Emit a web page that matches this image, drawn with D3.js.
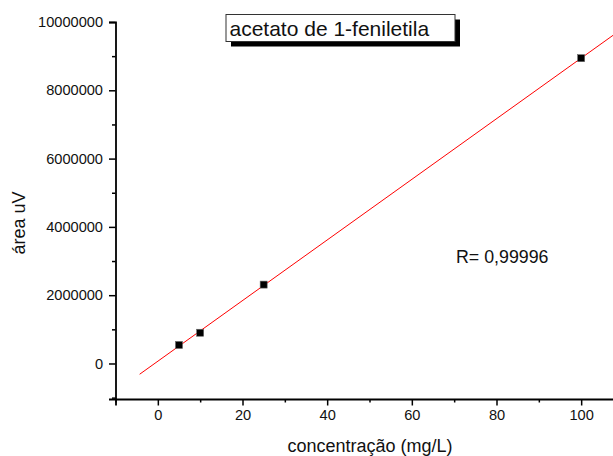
<!DOCTYPE html>
<html>
<head>
<meta charset="utf-8">
<script src="https://cdn.jsdelivr.net/npm/d3@7"></script>
<style>
  html, body { margin: 0; padding: 0; background: #fff; }
  svg { display: block; font-family: "Liberation Sans", Arial, sans-serif; }
</style>
</head>
<body>
<svg id="chart" width="613" height="456"></svg>
<script>
// Calibration standards: concentration (mg/L) vs peak area (uV)
const concentration = [5, 10, 25, 100];
const area = [542000, 900000, 2310000, 8940000];

const xMajorTicks = [0, 20, 40, 60, 80, 100];
const xMinorTicks = [-10, 10, 30, 50, 70, 90];
const yMajorTicks = [0, 2000000, 4000000, 6000000, 8000000, 10000000];
const yMinorTicks = [-1000000, 1000000, 3000000, 5000000, 7000000, 9000000];

const fitRange = [-4.3, 110];
const title = "acetato de 1-feniletila";
const rLabel = "R= 0,99996";
const xTitle = "concentração (mg/L)";
const yTitle = "área uV";

const svg = d3.select("#chart");

const x = d3.scaleLinear().domain([-10, 110]).range([115.5, 623.5]);
const y = d3.scaleLinear().domain([-1040000, 10000000]).range([399, 22]);

// least-squares fit of the standards
const n = concentration.length;
const mx = d3.mean(concentration), my = d3.mean(area);
let sxy = 0, sxx = 0;
for (let i = 0; i < n; i++) {
  sxy += (concentration[i] - mx) * (area[i] - my);
  sxx += (concentration[i] - mx) ** 2;
}
const slope = sxy / sxx;
const intercept = my - slope * mx;

// x axis
const xAxisG = svg.append("g").attr("transform", `translate(0,${y.range()[0]})`);
xAxisG.call(d3.axisBottom(x).tickValues(xMajorTicks).tickSize(6.5).tickPadding(4).tickFormat(d3.format("d")));
xAxisG.append("g").call(d3.axisBottom(x).tickValues(xMinorTicks).tickSize(3.5).tickFormat(""))
  .select(".domain").remove();

// y axis
const yAxisG = svg.append("g").attr("transform", `translate(${x.range()[0]},0)`);
yAxisG.call(d3.axisLeft(y).tickValues(yMajorTicks).tickSize(6.5).tickPadding(6).tickFormat(d3.format("d")));
yAxisG.append("g").call(d3.axisLeft(y).tickValues(yMinorTicks).tickSize(3.5).tickFormat(""))
  .select(".domain").remove();

svg.selectAll(".domain").attr("stroke", "#000").attr("stroke-width", 1.8);
svg.selectAll(".tick line").attr("stroke", "#000").attr("stroke-width", 1.5);
svg.selectAll(".tick text")
  .attr("fill", "#111")
  .style("font-size", "14.6px")
  .style("font-family", "'Liberation Sans', Arial, sans-serif");

// regression line
svg.append("line")
  .attr("x1", x(fitRange[0])).attr("y1", y(intercept + slope * fitRange[0]))
  .attr("x2", x(fitRange[1])).attr("y2", y(intercept + slope * fitRange[1]))
  .attr("stroke", "#ff0000").attr("stroke-width", 1);

// data markers
const ms = 7;
svg.append("g").selectAll("rect")
  .data(concentration.map((c, i) => ({ c, a: area[i] })))
  .join("rect")
  .attr("x", d => x(d.c) - ms / 2)
  .attr("y", d => y(d.a) - ms / 2)
  .attr("width", ms).attr("height", ms)
  .attr("fill", "#000")
  .attr("stroke", "#666").attr("stroke-width", 0.6);

// title box with drop shadow
const tb = { x: 226, y: 14.5, w: 229, h: 27, off: 5 };
svg.append("rect")
  .attr("x", tb.x + tb.off).attr("y", tb.y + tb.off)
  .attr("width", tb.w).attr("height", tb.h)
  .attr("fill", "#000");
svg.append("rect")
  .attr("x", tb.x).attr("y", tb.y)
  .attr("width", tb.w).attr("height", tb.h)
  .attr("fill", "#fff").attr("stroke", "#333").attr("stroke-width", 1);
svg.append("text")
  .attr("x", tb.x + 3.5).attr("y", 35.7)
  .attr("fill", "#111")
  .style("font-size", "21px")
  .text(title);

// correlation coefficient
svg.append("text")
  .attr("x", 456).attr("y", 263.3)
  .attr("fill", "#111")
  .style("font-size", "17.8px")
  .text(rLabel);

// axis titles
svg.append("text")
  .attr("x", 370).attr("y", 452)
  .attr("text-anchor", "middle")
  .attr("fill", "#111")
  .style("font-size", "18px")
  .text(xTitle);

svg.append("text")
  .attr("transform", "translate(24.5,223) rotate(-90)")
  .attr("text-anchor", "middle")
  .attr("fill", "#111")
  .style("font-size", "18px")
  .text(yTitle);
</script>
</body>
</html>
